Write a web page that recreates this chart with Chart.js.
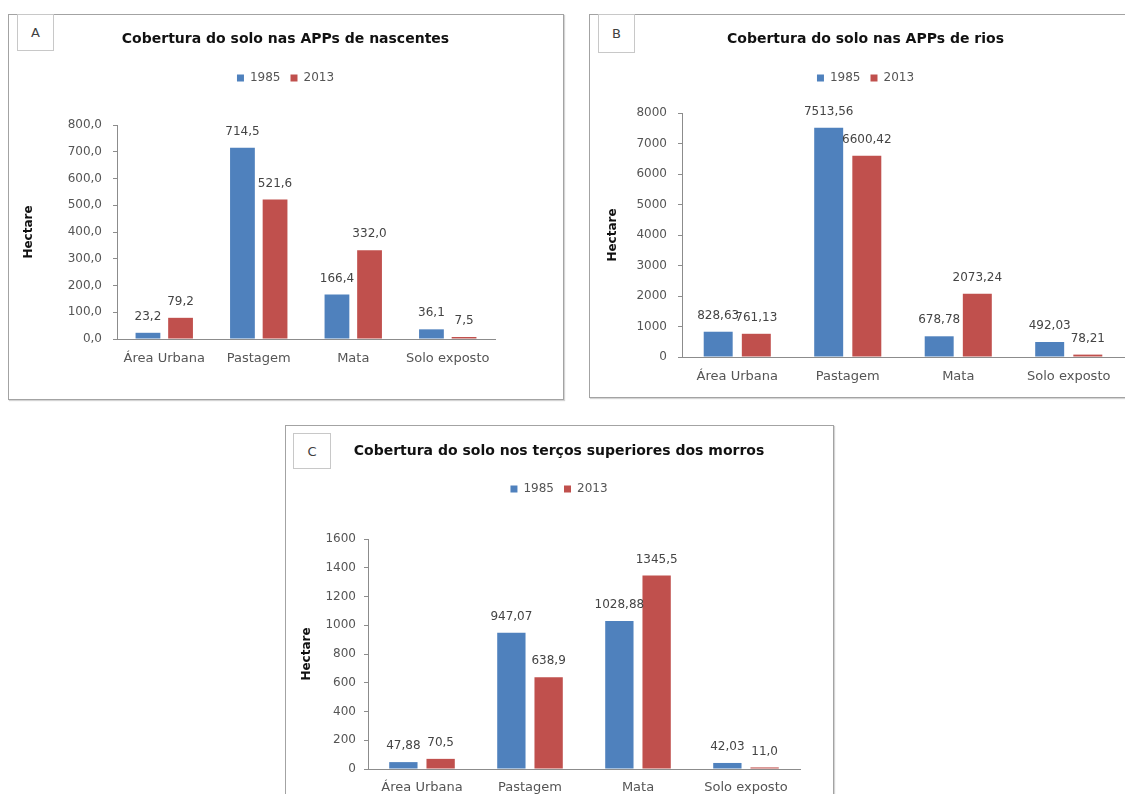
<!DOCTYPE html>
<html lang="pt">
<head>
<meta charset="utf-8">
<title>Cobertura do solo nas APPs</title>
<script src="https://cdn.jsdelivr.net/npm/chart.js@4.4.1/dist/chart.umd.min.js"></script>
<style>
  html, body { margin: 0; padding: 0; width: 1125px; height: 794px; overflow: hidden; background: #fff; }
  .panel { position: absolute; box-sizing: border-box; border: 1px solid #a3a3a3; box-shadow: 1px 1px 1px #d4d4d4; background: #fff; }
  .tag { position: absolute; box-sizing: border-box; border: 1px solid #c8c8c8; background: #fff;
         font: 13px "DejaVu Sans", sans-serif; color: #404040;
         display: flex; align-items: center; justify-content: center; }
  canvas { position: absolute; }
</style>
</head>
<body>
<div class="panel" style="left:8px;top:14px;width:556px;height:386px"></div>
<div class="panel" style="left:589px;top:14px;width:554px;height:384px"></div>
<div class="panel" style="left:285px;top:425px;width:549px;height:400px"></div>

<canvas id="chartA" width="555" height="385" style="left:8px;top:14px"></canvas>
<canvas id="chartB" width="553" height="383" style="left:589px;top:14px"></canvas>
<canvas id="chartC" width="548" height="394" style="left:285px;top:425px"></canvas>

<div class="tag" style="left:17px;top:14px;width:37px;height:37px">A</div>
<div class="tag" style="left:598px;top:14px;width:37px;height:39px">B</div>
<div class="tag" style="left:293px;top:433px;width:38px;height:36px">C</div>

<script>
// Land cover classes and survey years
const categories = ['Área Urbana', 'Pastagem', 'Mata', 'Solo exposto'];
const seriesNames = ['1985', '2013'];

// A – APPs de nascentes (hectares)
const nascentes1985 = [23.2, 714.5, 166.4, 36.1];
const nascentes2013 = [79.2, 521.6, 332.0, 7.5];
const nascentesTicks = ['0,0', '100,0', '200,0', '300,0', '400,0', '500,0', '600,0', '700,0', '800,0'];

// B – APPs de rios (hectares)
const rios1985 = [828.63, 7513.56, 678.78, 492.03];
const rios2013 = [761.13, 6600.42, 2073.24, 78.21];
const riosTicks = ['0', '1000', '2000', '3000', '4000', '5000', '6000', '7000', '8000'];

// C – terços superiores dos morros (hectares)
const morros1985 = [47.88, 947.07, 1028.88, 42.03];
const morros2013 = [70.5, 638.9, 1345.5, 11.0];
const morrosTicks = ['0', '200', '400', '600', '800', '1000', '1200', '1400', '1600'];

const SANS = '"DejaVu Sans", "Liberation Sans", sans-serif';
const BLUE = '#4F81BD';
const RED = '#C0504D';
const AXIS = '#8c8c8c';
const TEXT = '#555555';

const toNum = s => parseFloat(String(s).replace(',', '.'));

// Value printed above each bar, decimal comma
const valueLabels = {
  id: 'valueLabels',
  afterDatasetsDraw(chart, args, opts) {
    const ctx = chart.ctx;
    ctx.save();
    ctx.font = opts.font;
    ctx.fillStyle = opts.color;
    ctx.textAlign = 'center';
    ctx.textBaseline = 'middle';
    chart.data.datasets.forEach((ds, i) => {
      chart.getDatasetMeta(i).data.forEach((bar, j) => {
        const txt = ds.data[j].toFixed(ds.decimals).replace('.', ',');
        ctx.fillText(txt, bar.x, bar.y - opts.offset);
      });
    });
    ctx.restore();
  }
};

// Extra room between the legend row and the plot
const legendGap = {
  id: 'legendGap',
  afterInit(chart) {
    const legend = chart.legend;
    const fit = legend.fit;
    legend.fit = function () {
      fit.call(this);
      this.height += chart.options.plugins.legendGap.extra;
    };
  }
};

function buildChart(id, spec) {
  const ticks = spec.ticks;
  const yMax = toNum(ticks[ticks.length - 1]);
  const yStep = toNum(ticks[1]) - toNum(ticks[0]);
  return new Chart(document.getElementById(id), {
    type: 'bar',
    data: {
      labels: categories,
      datasets: [
        { label: seriesNames[0], data: spec.first, backgroundColor: BLUE, decimals: spec.decimals[0] },
        { label: seriesNames[1], data: spec.second, backgroundColor: RED, decimals: spec.decimals[1] }
      ]
    },
    options: {
      responsive: false,
      animation: false,
      devicePixelRatio: 1,
      events: [],
      datasets: { bar: { categoryPercentage: 0.69, barPercentage: 0.76 } },
      layout: { padding: { left: 0, right: 0, top: 0, bottom: spec.bottom } },
      plugins: {
        title: {
          display: true, text: spec.title, color: '#111',
          font: { family: SANS, size: 14, weight: 'bold' },
          padding: { top: spec.titleTop, bottom: spec.titleBottom }
        },
        legend: {
          display: true, position: 'top',
          labels: { boxWidth: 7, boxHeight: 7, padding: 10, color: TEXT, font: { family: SANS, size: 12 } }
        },
        legendGap: { extra: spec.gap },
        valueLabels: { font: '12px ' + SANS, color: '#444', offset: 16 },
        tooltip: { enabled: false }
      },
      scales: {
        x: {
          grid: { display: false, drawTicks: false },
          border: { display: true, color: AXIS },
          ticks: { color: TEXT, font: { family: SANS, size: 13 }, padding: spec.xPad },
          afterFit: s => { s.width = s.width; s.height = spec.xHeight; }
        },
        y: {
          min: 0, max: yMax,
          ticks: { stepSize: yStep, callback: (v, i) => ticks[i], color: TEXT, font: { family: SANS, size: 12 }, padding: spec.yPad },
          grid: { drawOnChartArea: false, drawTicks: true, tickLength: 4, color: AXIS },
          border: { display: true, color: AXIS },
          title: {
            display: true, text: 'Hectare', color: '#111',
            font: { family: SANS, size: 12, weight: 'bold' },
            padding: { top: spec.yTitlePad, bottom: 0 }
          },
          afterFit: s => { s.width = spec.yWidth; }
        },
        // empty right-hand margin inside the chart frame
        margin: {
          type: 'linear', position: 'right', display: true,
          ticks: { display: false },
          grid: { display: false, drawTicks: false },
          border: { display: false },
          afterFit: s => { s.width = spec.rightMargin; }
        }
      }
    },
    plugins: [valueLabels, legendGap]
  });
}

buildChart('chartA', {
  title: 'Cobertura do solo nas APPs de nascentes',
  first: nascentes1985, second: nascentes2013, ticks: nascentesTicks, decimals: [1, 1],
  bottom: 20, titleTop: 16.6, titleBottom: 14.6, gap: 31,
  xHeight: 40, xPad: 12, yWidth: 109, yPad: 11, yTitlePad: 13.8, rightMargin: 68
});

buildChart('chartB', {
  title: 'Cobertura do solo nas APPs de rios',
  first: rios1985, second: rios2013, ticks: riosTicks, decimals: [2, 2],
  bottom: 0, titleTop: 16.6, titleBottom: 14.6, gap: 19,
  xHeight: 40, xPad: 12, yWidth: 93, yPad: 11, yTitlePad: 16.8, rightMargin: 18
});

buildChart('chartC', {
  title: 'Cobertura do solo nos terços superiores dos morros',
  first: morros1985, second: morros2013, ticks: morrosTicks, decimals: [2, 1],
  bottom: 10, titleTop: 17.6, titleBottom: 13.6, gap: 34,
  xHeight: 40, xPad: 11, yWidth: 83, yPad: 8, yTitlePad: 14.8, rightMargin: 33
});
</script>
</body>
</html>
